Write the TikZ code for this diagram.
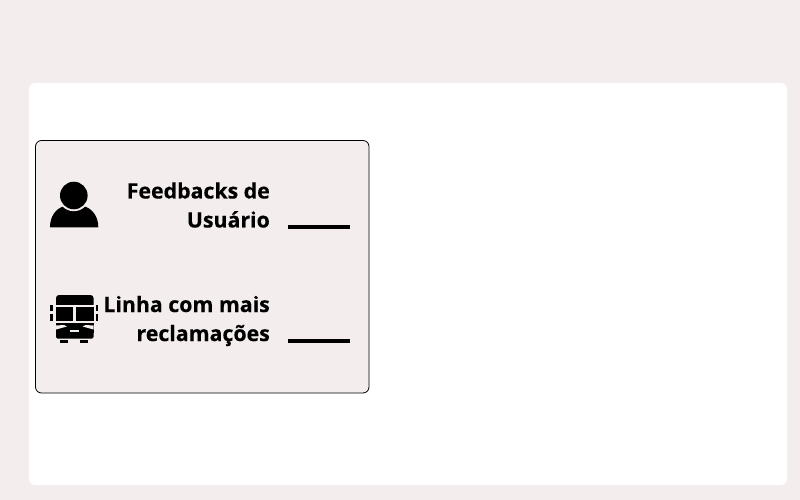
\documentclass[tikz,border=0pt]{standalone}
\usepackage{fontspec}
\setmainfont{Open Sans}[BoldFeatures={FakeBold=0.3}]
\definecolor{bgpink}{HTML}{F3EDED}
\tikzset{
  x=1pt,y=-1pt,
  card/.style={fill=white,draw=none,rounded corners=6pt},
  panel/.style={fill=bgpink,draw=black,line width=0.8pt,rounded corners=6pt},
  label/.style={font=\fontsize{21.3}{29}\selectfont\bfseries,align=right,anchor=east,inner sep=0pt,text=black},
  rule/.style={draw=black,line width=3.4pt},
  icon/.style={fill=black,draw=none},
  iconcut/.style={fill=bgpink,draw=none}
}
\begin{document}
\begin{tikzpicture}
\useasboundingbox (0,0) rectangle (800,500);
\fill[bgpink] (0,0) rectangle (800,500);
\path[card] (29,83) rectangle (787,485);
\path[panel] (35.5,140.5) rectangle (369,393);
% person icon
\fill[icon] (50,227.3) .. controls (50,216) and (56,209) .. (63,206.5) -- (85,206.5) .. controls (92,209) and (98.3,216) .. (98.3,227.3) -- cycle;
\fill[iconcut] (73.8,195.5) circle (15.7);
\fill[icon] (73.8,195.5) circle (13.8);
% bus icon
\fill[icon,rounded corners=3pt] (56,295) rectangle (93.5,310);
\fill[icon] (56,305) rectangle (93.5,321);
\fill[icon] (56,323) rectangle (93.5,333);
\fill[icon,rounded corners=1.5pt] (56,328) rectangle (93.5,338.5);
\fill[icon] (60,340.3) rectangle (68,343.3);
\fill[icon] (80,340.3) rectangle (88,343.3);
\fill[icon] (50,305) rectangle (52.5,311);
\fill[icon] (50,313.5) rectangle (52.5,320.5);
\fill[icon] (95.5,305) rectangle (98,311);
\fill[icon] (95.5,313.5) rectangle (98,320.5);
\fill[iconcut] (56,305) rectangle (93.5,306.7);
\fill[iconcut] (73.3,305) rectangle (76,322);
\fill[iconcut] (56,321) rectangle (93.5,323.3);
\fill[iconcut] (56,325.5) -- (64,325) -- (67,326.5) -- (56,329.5) -- cycle;
\fill[iconcut] (93.5,325.5) -- (85.5,325) -- (82.5,326.5) -- (93.5,329.5) -- cycle;
\fill[iconcut] (70,329.5) rectangle (79,332);
% labels
\node[label] (fb) at (270,205) {Feedbacks de\\Usuário};
\node[label] (ln) at (270,321) {Linha com mais\\reclamações};
\coordinate (r1a) at (288,226.8);
\coordinate (r1b) at (350,226.8);
\coordinate (r2a) at (288,340.8);
\coordinate (r2b) at (350,340.8);
\draw[rule] (r1a) -- (r1b);
\draw[rule] (r2a) -- (r2b);
\end{tikzpicture}
\end{document}
